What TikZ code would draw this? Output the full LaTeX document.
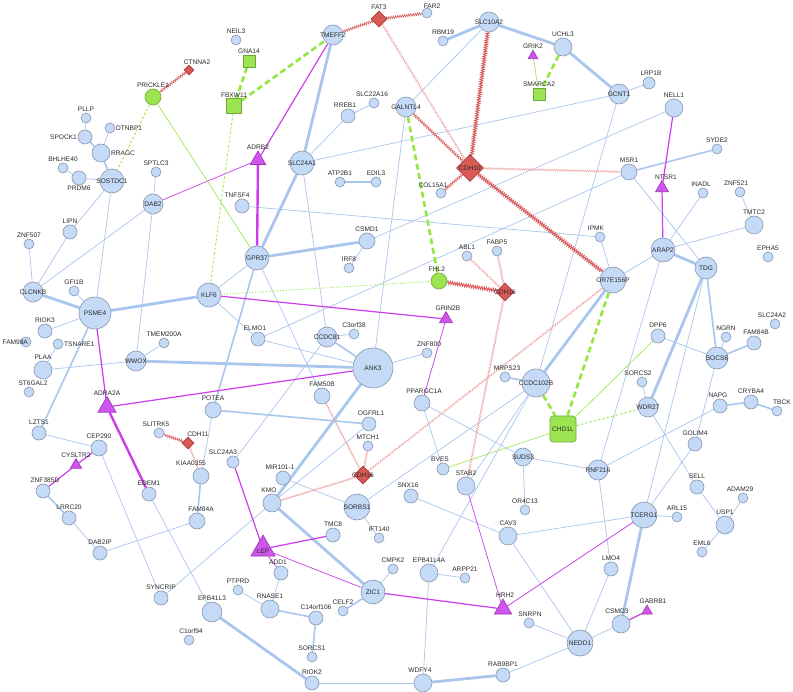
\documentclass[tikz,border=0pt]{standalone}
\usepackage{fontspec}
\setmainfont{Liberation Sans}
\usetikzlibrary{shapes.geometric,decorations.pathmorphing}
\pgfdeclarelayer{back}
\pgfdeclarelayer{bg}
\pgfsetlayers{back,bg,main}
\definecolor{nfill}{HTML}{C4DAF6}
\definecolor{nedge}{HTML}{8797AE}
\definecolor{eblue}{HTML}{A9C6EF}
\definecolor{mag}{HTML}{CC3DEB}
\definecolor{tfill}{HTML}{CF55EE}
\definecolor{tedge}{HTML}{9A35B0}
\definecolor{gfill}{HTML}{9BE650}
\definecolor{gedge}{HTML}{6EA83A}
\definecolor{gline}{HTML}{93E83F}
\definecolor{rfill}{HTML}{D95A55}
\definecolor{redge}{HTML}{A84040}
\definecolor{rline}{HTML}{D95A5A}
\definecolor{rlight}{HTML}{EFA2A2}
\definecolor{labc}{HTML}{2A2A2A}
\tikzset{
 gn/.style={circle,draw=nedge,fill=nfill,line width=0.6pt,inner sep=0pt},
 grn/.style={circle,draw=gedge,fill=gfill,line width=0.6pt,inner sep=0pt},
 gsq/.style={rectangle,draw=gedge,fill=gfill,line width=0.6pt,inner sep=0pt},
 rdia/.style={diamond,draw=redge,fill=rfill,line width=0.6pt,inner sep=0pt,aspect=1},
 tri/.style={regular polygon,regular polygon sides=3,draw=tedge,fill=tfill,line width=0.6pt,inner sep=0pt},
 lab/.style={font=\fontsize{6.6}{7}\selectfont,text=labc,inner sep=0.6pt},
 eb1/.style={draw=eblue,line width=0.7pt},
 eb2/.style={draw=eblue,line width=1.6pt},
 eb3/.style={draw=eblue,line width=2.8pt},
 em1/.style={draw=mag,line width=0.7pt},
 em2/.style={draw=mag,line width=1.2pt},
 em3/.style={draw=mag,line width=2.4pt},
 eg1/.style={draw=gline,line width=0.6pt},
 egd1/.style={draw=gline,line width=0.8pt,dash pattern=on 2.5pt off 2pt},
 egd3/.style={draw=gline,line width=2.6pt,dash pattern=on 6pt off 3.5pt},
 egdot/.style={draw=gline,line width=0.9pt,dash pattern=on 1pt off 1.8pt},
 er1/.style={draw=rlight,line width=0.45pt,decorate,decoration={zigzag,segment length=2.2pt,amplitude=0.9pt}},
 er2/.style={draw=rline,line width=0.6pt,decorate,decoration={zigzag,segment length=2.2pt,amplitude=1.2pt}},
 er3/.style={draw=rline,line width=0.9pt,decorate,decoration={zigzag,segment length=2.3pt,amplitude=1.5pt}},
}
\begin{document}
\begin{tikzpicture}[x=1pt,y=-1pt]
\useasboundingbox (0,0) rectangle (793,692);
\begin{pgfonlayer}{back}
\fill[white] (0,0) rectangle (793,692);
\end{pgfonlayer}
% ---- blue gene nodes
\node[gn,minimum size=10,label={[lab]above:PLLP}] (PLLP) at (86,118) {};
\node[gn,minimum size=10,label={[lab]right:DTNBP1}] (DTNBP1) at (110,128) {};
\node[gn,minimum size=14,label={[lab]left:SPOCK1}] (SPOCK1) at (85,137) {};
\node[gn,minimum size=18,label={[lab]right:RRAGC}] (RRAGC) at (101,153) {};
\node[gn,minimum size=10,label={[lab]above:BHLHE40}] (BHLHE40) at (63,168) {};
\node[gn,minimum size=14,label={[lab]below:PRDM6}] (PRDM6) at (79,178) {};
\node[gn,minimum size=24,label={[lab]center:SOSTDC1}] (SOSTDC1) at (112,181) {};
\node[gn,minimum size=10,label={[lab]above:SPTLC3}] (SPTLC3) at (156,172) {};
\node[gn,minimum size=20,label={[lab]center:DAB2}] (DAB2) at (153,204) {};
\node[gn,minimum size=14,label={[lab]above:LIPN}] (LIPN) at (70,232) {};
\node[gn,minimum size=10,label={[lab]above:ZNF507}] (ZNF507) at (29,244) {};
\node[gn,minimum size=20,label={[lab]center:CLCNKB}] (CLCNKB) at (33,292) {};
\node[gn,minimum size=10,label={[lab]above:GFI1B}] (GFI1B) at (74,291) {};
\node[gn,minimum size=32,label={[lab]center:PSME4}] (PSME4) at (95,313) {};
\node[gn,minimum size=14,label={[lab]above:RIOK3}] (RIOK3) at (45,331) {};
\node[gn,minimum size=10,label={[lab,xshift=8]left:FAM98A}] (FAM98A) at (26,342) {};
\node[gn,minimum size=10,label={[lab]right:TSNARE1}] (TSNARE1) at (58,344) {};
\node[gn,minimum size=10,label={[lab]above:TMEM200A}] (TMEM200A) at (164,343) {};
\node[gn,minimum size=18,label={[lab]above:PLAA}] (PLAA) at (43,370) {};
\node[gn,minimum size=20,label={[lab]center:WWOX}] (WWOX) at (136,361) {};
\node[gn,minimum size=10,label={[lab,xshift=4]above:ST6GAL2}] (ST6GAL2) at (29,392) {};
\node[gn,minimum size=14,label={[lab]above:LZTS1}] (LZTS1) at (39,433) {};
\node[gn,minimum size=10,label={[lab,xshift=-3]above:SLITRK5}] (SLITRK5) at (159,433) {};
\node[gn,minimum size=16,label={[lab]above:CEP290}] (CEP290) at (99,448) {};
\node[gn,minimum size=14,label={[lab,xshift=2]above:ZNF385D}] (ZNF385D) at (43,491) {};
\node[gn,minimum size=14,label={[lab]above:LRRC20}] (LRRC20) at (69,518) {};
\node[gn,minimum size=14,label={[lab]above:DAB2IP}] (DAB2IP) at (100,553) {};
\node[gn,minimum size=14,label={[lab]above:EDEM1}] (EDEM1) at (149,494) {};
\node[gn,minimum size=14,label={[lab]above:SYNCRIP}] (SYNCRIP) at (161,598) {};
\node[gn,minimum size=10,label={[lab,xshift=2]above:C1orf94}] (C1orf94) at (189,640) {};
\node[gn,minimum size=16,label={[lab,xshift=4]above:FAM84A}] (FAM84A) at (197,521) {};
\node[gn,minimum size=16,label={[lab,xshift=-10,yshift=1]above:KIAA0355}] (KIAA0355) at (201,476) {};
\node[gn,minimum size=12,label={[lab,xshift=-10]above:SLC24A3}] (SLC24A3) at (233,462) {};
\node[gn,minimum size=14,label={[lab,xshift=-3]above:MIR101-1}] (MIR) at (283,478) {};
\node[gn,minimum size=18,label={[lab,xshift=-3]above:KMO}] (KMO) at (272,503) {};
\node[gn,minimum size=26,label={[lab]center:SORBS1}] (SORBS1) at (357,507) {};
\node[gn,minimum size=14,label={[lab]above:TMC8}] (TMC8) at (333,535) {};
\node[gn,minimum size=10,label={[lab]above:IFT140}] (IFT140) at (379,538) {};
\node[gn,minimum size=14,label={[lab,xshift=-3]above:ADD1}] (ADD1) at (281,573) {};
\node[gn,minimum size=10,label={[lab]above:CMPK2}] (CMPK2) at (393,569) {};
\node[gn,minimum size=24,label={[lab]center:ZIC1}] (ZIC1) at (373,592) {};
\node[gn,minimum size=10,label={[lab]above:PTPRD}] (PTPRD) at (238,590) {};
\node[gn,minimum size=20,label={[lab]above:EPB41L3}] (EPB41L3) at (212,612) {};
\node[gn,minimum size=18,label={[lab]above:RNASE1}] (RNASE1) at (270,609) {};
\node[gn,minimum size=10,label={[lab]above:CELF2}] (CELF2) at (343,611) {};
\node[gn,minimum size=14,label={[lab]above:C14orf106}] (C14orf106) at (316,618) {};
\node[gn,minimum size=10,label={[lab]above:SORCS1}] (SORCS1) at (312,657) {};
\node[gn,minimum size=14,label={[lab]above:RIOK2}] (RIOK2) at (312,683) {};
\node[gn,minimum size=12,label={[lab,xshift=-3]above:BVES}] (BVES) at (443,469) {};
\node[gn,minimum size=18,label={[lab]above:STAB2}] (STAB2) at (466,486) {};
\node[gn,minimum size=14,label={[lab,xshift=-3]above:SNX16}] (SNX16) at (411,496) {};
\node[gn,minimum size=10,label={[lab]above:OR4C13}] (OR4C13) at (525,510) {};
\node[gn,minimum size=18,label={[lab]above:CAV3}] (CAV3) at (508,536) {};
\node[gn,minimum size=18,label={[lab]above:EPB41L4A}] (EPB41L4A) at (429,573) {};
\node[gn,minimum size=10,label={[lab]above:ARPP21}] (ARPP21) at (465,578) {};
\node[gn,minimum size=10,label={[lab,xshift=1]above:SNRPN}] (SNRPN) at (529,623) {};
\node[gn,minimum size=26,label={[lab]center:NEDD1}] (NEDD1) at (580,643) {};
\node[gn,minimum size=14,label={[lab]above:RAB9BP1}] (RAB9BP1) at (503,675) {};
\node[gn,minimum size=18,label={[lab,xshift=-3]above:WDFY4}] (WDFY4) at (423,683) {};
\node[gn,minimum size=20,label={[lab]center:RNF216}] (RNF216) at (598,470) {};
\node[gn,minimum size=14,label={[lab]above:SELL}] (SELL) at (697,487) {};
\node[gn,minimum size=10,label={[lab,xshift=-3]above:ADAM29}] (ADAM29) at (743,498) {};
\node[gn,minimum size=26,label={[lab]center:TCERG1}] (TCERG1) at (644,515) {};
\node[gn,minimum size=10,label={[lab]above:ARL15}] (ARL15) at (677,517) {};
\node[gn,minimum size=18,label={[lab]above:USP1}] (USP1) at (725,525) {};
\node[gn,minimum size=10,label={[lab]above:EML6}] (EML6) at (702,552) {};
\node[gn,minimum size=14,label={[lab]above:LMO4}] (LMO4) at (611,569) {};
\node[gn,minimum size=18,label={[lab,xshift=-4]above:CSMD3}] (CSMD3) at (621,624) {};
\node[gn,minimum size=24,label={[lab]center:GPR37}] (GPR37) at (257,258) {};
\node[gn,minimum size=16,label={[lab]above:CSMD1}] (CSMD1) at (367,241) {};
\node[gn,minimum size=10,label={[lab]above:IRF8}] (IRF8) at (349,268) {};
\node[gn,minimum size=24,label={[lab]center:KLF6}] (KLF6) at (209,295) {};
\node[gn,minimum size=14,label={[lab,xshift=-3]above:ELMO1}] (ELMO1) at (258,339) {};
\node[gn,minimum size=20,label={[lab]center:CCDC81}] (CCDC81) at (327,337) {};
\node[gn,minimum size=10,label={[lab]above:C3orf38}] (C3orf38) at (354,334) {};
\node[gn,minimum size=40,label={[lab]center:ANK3}] (ANK3) at (373,368) {};
\node[gn,minimum size=16,label={[lab]above:FAM50B}] (FAM50B) at (322,396) {};
\node[gn,minimum size=16,label={[lab]above:POTEA}] (POTEA) at (213,410) {};
\node[gn,minimum size=14,label={[lab,xshift=2]above:OGFRL1}] (OGFRL1) at (369,424) {};
\node[gn,minimum size=10,label={[lab]above:MTCH1}] (MTCH1) at (368,446) {};
\node[gn,minimum size=10,label={[lab]above:ABL1}] (ABL1) at (467,256) {};
\node[gn,minimum size=10,label={[lab]above:FABP5}] (FABP5) at (497,251) {};
\node[gn,minimum size=10,label={[lab,xshift=2]above:ZNF800}] (ZNF800) at (427,353) {};
\node[gn,minimum size=10,label={[lab,xshift=2]above:MRPS23}] (MRPS23) at (505,377) {};
\node[gn,minimum size=28,label={[lab]center:CCDC102B}] (CCDC102B) at (536,383) {};
\node[gn,minimum size=16,label={[lab,xshift=2]above:PPARGC1A}] (PPARGC1A) at (422,403) {};
\node[gn,minimum size=18,label={[lab]center:SUDS3}] (SUDS3) at (523,457) {};
\node[gn,minimum size=10,label={[lab]above:EPHA5}] (EPHA5) at (768,257) {};
\node[gn,minimum size=24,label={[lab]center:ARAP2}] (ARAP2) at (663,250) {};
\node[gn,minimum size=22,label={[lab]center:TDG}] (TDG) at (706,268) {};
\node[gn,minimum size=26,label={[lab]center:OR7E156P}] (OR7E156P) at (613,280) {};
\node[gn,minimum size=14,label={[lab]above:DPP6}] (DPP6) at (658,336) {};
\node[gn,minimum size=10,label={[lab]above:NGRN}] (NGRN) at (726,337) {};
\node[gn,minimum size=14,label={[lab,xshift=2]above:FAM84B}] (FAM84B) at (754,343) {};
\node[gn,minimum size=10,label={[lab,xshift=-3]above:SLC24A2}] (SLC24A2) at (775,324) {};
\node[gn,minimum size=22,label={[lab]center:SOCS6}] (SOCS6) at (717,358) {};
\node[gn,minimum size=10,label={[lab,xshift=-4]above:SORCS2}] (SORCS2) at (642,382) {};
\node[gn,minimum size=20,label={[lab]center:WDR27}] (WDR27) at (648,407) {};
\node[gn,minimum size=14,label={[lab,xshift=-2]above:NAPG}] (NAPG) at (720,406) {};
\node[gn,minimum size=14,label={[lab]above:CRYBA4}] (CRYBA4) at (751,402) {};
\node[gn,minimum size=10,label={[lab,xshift=5]above:TBCK}] (TBCK) at (777,411) {};
\node[gn,minimum size=14,label={[lab]above:GOLIM4}] (GOLIM4) at (695,444) {};
\node[gn,minimum size=10,label={[lab,xshift=-4]above:IPMK}] (IPMK) at (600,237) {};
\node[gn,minimum size=20,label={[lab]center:GCNT1}] (GCNT1) at (619,94) {};
\node[gn,minimum size=12,label={[lab,xshift=2]above:LRP1B}] (LRP1B) at (649,83) {};
\node[gn,minimum size=18,label={[lab]above:NELL1}] (NELL1) at (674,108) {};
\node[gn,minimum size=10,label={[lab]above:SYDE2}] (SYDE2) at (717,149) {};
\node[gn,minimum size=16,label={[lab]above:MSR1}] (MSR1) at (629,172) {};
\node[gn,minimum size=10,label={[lab,xshift=-2]above:INADL}] (INADL) at (703,193) {};
\node[gn,minimum size=10,label={[lab,xshift=-4]above:ZNF521}] (ZNF521) at (740,192) {};
\node[gn,minimum size=18,label={[lab]above:TMTC2}] (TMTC2) at (754,225) {};
\node[gn,minimum size=10,label={[lab,xshift=5,yshift=-2]above:FAR2}] (FAR2) at (427,13) {};
\node[gn,minimum size=20,label={[lab]center:SLC10A2}] (SLC10A2) at (489,22) {};
\node[gn,minimum size=10,label={[lab]above:RBM19}] (RBM19) at (443,41) {};
\node[gn,minimum size=18,label={[lab]above:UCHL3}] (UCHL3) at (563,47) {};
\node[gn,minimum size=20,label={[lab]center:GALNTL4}] (GALNTL4) at (406,107) {};
\node[gn,minimum size=10,label={[lab,xshift=-8,yshift=-1]above:COL15A1}] (COL15A1) at (441,193) {};
\node[gn,minimum size=10,label={[lab]above:NEIL3}] (NEIL3) at (236,40) {};
\node[gn,minimum size=20,label={[lab]center:TMEFF2}] (TMEFF2) at (333,35) {};
\node[gn,minimum size=10,label={[lab,xshift=-2]above:SLC22A16}] (SLC22A16) at (374,103) {};
\node[gn,minimum size=14,label={[lab,xshift=-3]above:RREB1}] (RREB1) at (348,116) {};
\node[gn,minimum size=24,label={[lab]center:SLC24A1}] (SLC24A1) at (302,163) {};
\node[gn,minimum size=10,label={[lab]above:ATP2B1}] (ATP2B1) at (340,182) {};
\node[gn,minimum size=10,label={[lab]above:EDIL3}] (EDIL3) at (376,182) {};
\node[gn,minimum size=14,label={[lab,xshift=-5]above:TNFSF4}] (TNFSF4) at (242,206) {};
% ---- green nodes
\node[grn,minimum size=16,label={[lab]above:PRICKLE1}] (PRICKLE1) at (153,97) {};
\node[grn,minimum size=16,label={[lab,xshift=-2]above:FHL2}] (FHL2) at (439,281) {};
\node[gsq,minimum size=12,label={[lab]above:GNA14}] (GNA14) at (249,61) {};
\node[gsq,minimum size=15,label={[lab]above:FBXW11}] (FBXW11) at (234,106) {};
\node[gsq,minimum size=12,label={[lab]above:SMARCA2}] (SMARCA2) at (539,94) {};
\node[gsq,minimum size=26,rounded corners=3pt,label={[lab]center:CHD1L}] (CHD1L) at (563,429) {};
% ---- red nodes
\node[rdia,minimum size=10,label={[lab,xshift=8,yshift=-1]above:CTNNA2}] (CTNNA2) at (189,70) {};
\node[rdia,minimum size=16,label={[lab]above:FAT3}] (FAT3) at (379,19) {};
\node[rdia,minimum size=27,label={[lab]center:CDH10}] (CDH10) at (470,168) {};
\node[rdia,minimum size=18,label={[lab]center:CDH16}] (CDH16a) at (505,292) {};
\node[rdia,minimum size=18,label={[lab]center:CDH16}] (CDH16b) at (363,475) {};
\node[rdia,minimum size=12,label={[lab,xshift=10,yshift=-1]above:CDH11}] (CDH11) at (188,443) {};
% ---- magenta nodes
\node[tri,minimum size=11.5,label={[lab]above:GRIK2}] (GRIK2) at (533,56) {};
\node[tri,minimum size=18,label={[lab]above:ADRB2}] (ADRB2) at (258,160) {};
\node[tri,minimum size=21,label={[lab]above:ADRA2A}] (ADRA2A) at (107,407) {};
\node[tri,minimum size=15,label={[lab,xshift=4]above:NTSR1}] (NTSR1) at (662,188) {};
\node[tri,minimum size=15,label={[lab,xshift=2]above:GRIN2B}] (GRIN2B) at (446,319) {};
\node[tri,minimum size=13,label={[lab]above:CYSLTR2}] (CYSLTR2) at (76,465) {};
\node[tri,minimum size=28,label={[lab,yshift=-2]center:LEP}] (LEP) at (263,549) {};
\node[tri,minimum size=20,label={[lab,xshift=2]above:HRH2}] (HRH2) at (503,609) {};
\node[tri,minimum size=12,label={[lab,xshift=6]above:GABRB1}] (GABRB1) at (647,611) {};
% ================= edges
\begin{pgfonlayer}{bg}
% blue
\draw[eb3] (TMEFF2) -- (SLC24A1);
\draw[eb3] (SLC24A1) -- (GPR37);
\draw[eb1] (SLC24A1) -- (RREB1);
\draw[eb1] (RREB1) -- (SLC22A16);
\draw[eb1] (SLC24A1) -- (GCNT1);
\draw[eb1] (SLC24A1) -- (CCDC81);
\draw[eb2] (ATP2B1) -- (EDIL3);
\draw[eb1] (TNFSF4) -- (IPMK);
\draw[eb3] (GPR37) -- (CSMD1);
\draw[eb1] (CSMD1) -- (IRF8);
\draw[eb1] (GPR37) -- (KLF6);
\draw[eb2] (GPR37) -- (POTEA);
\draw[eb1] (GPR37) -- (FAM50B);
\draw[eb3] (KLF6) -- (PSME4);
\draw[eb1] (KLF6) -- (ELMO1);
\draw[eb1] (ELMO1) -- (ANK3);
\draw[eb2] (CCDC81) -- (ANK3);
\draw[eb1] (CCDC81) -- (C3orf38);
\draw[eb1] (CCDC81) -- (SLC24A3);
\draw[eb3] (WWOX) -- (ANK3);
\draw[eb1] (WWOX) -- (TMEM200A);
\draw[eb1] (WWOX) -- (PLAA);
\draw[eb1] (WWOX) -- (DAB2);
\draw[eb3] (PSME4) -- (CLCNKB);
\draw[eb1] (PSME4) -- (GFI1B);
\draw[eb1] (PSME4) -- (RIOK3);
\draw[eb2] (PSME4) -- (LZTS1);
\draw[eb1] (PSME4) -- (SOSTDC1);
\draw[eb1] (CLCNKB) -- (ZNF507);
\draw[eb1] (CLCNKB) -- (LIPN);
\draw[eb1] (CLCNKB) -- (DAB2);
\draw[eb1] (SOSTDC1) -- (LIPN);
\draw[eb2] (SOSTDC1) -- (RRAGC);
\draw[eb1] (SOSTDC1) -- (PRDM6);
\draw[eb1] (PRDM6) -- (BHLHE40);
\draw[eb2] (RRAGC) -- (SPOCK1);
\draw[eb1] (SPOCK1) -- (PLLP);
\draw[eb1] (RRAGC) -- (DTNBP1);
\draw[eb1] (DAB2) -- (SPTLC3);
\draw[eb1] (PLAA) -- (TSNARE1);
\draw[eb1] (LZTS1) -- (CEP290);
\draw[eb1] (CEP290) -- (SYNCRIP);
\draw[eb2] (ZNF385D) -- (LRRC20);
\draw[eb1] (LRRC20) -- (DAB2IP);
\draw[eb1] (DAB2IP) -- (FAM84A);
\draw[eb1] (EDEM1) -- (EPB41L3);
\draw[eb1] (SYNCRIP) -- (KMO);
\draw[eb1] (KMO) -- (OGFRL1);
\draw[eb2] (KIAA0355) -- (FAM84A);
\draw[eb1] (POTEA) -- (KIAA0355);
\draw[eb2] (POTEA) -- (OGFRL1);
\draw[eb3] (ANK3) -- (KMO);
\draw[eb3] (KMO) -- (ZIC1);
\draw[eb1] (MIR) -- (SORBS1);
\draw[eb1] (SORBS1) -- (IFT140);
\draw[eb1] (SORBS1) -- (CCDC102B);
\draw[eb1] (ZIC1) -- (CMPK2);
\draw[eb2] (ZIC1) -- (CELF2);
\draw[eb1] (ADD1) -- (RNASE1);
\draw[eb1] (PTPRD) -- (RNASE1);
\draw[eb2] (RNASE1) -- (C14orf106);
\draw[eb2] (C14orf106) -- (SORCS1);
\draw[eb3] (EPB41L3) -- (RIOK2);
\draw[eb1] (RIOK2) -- (WDFY4);
\draw[eb3] (WDFY4) -- (RAB9BP1);
\draw[eb1] (WDFY4) -- (EPB41L4A);
\draw[eb1] (EPB41L4A) -- (ARPP21);
\draw[eb1] (EPB41L4A) -- (CCDC102B);
\draw[eb1] (RAB9BP1) -- (NEDD1);
\draw[eb1] (SNRPN) -- (NEDD1);
\draw[eb1] (CAV3) -- (NEDD1);
\draw[eb1] (CAV3) -- (SNX16);
\draw[eb1] (CAV3) -- (TCERG1);
\draw[eb1] (NEDD1) -- (CSMD3);
\draw[eb3] (CSMD3) -- (TCERG1);
\draw[eb1] (TCERG1) -- (ARL15);
\draw[eb1] (TCERG1) -- (TDG);
\draw[eb1] (TCERG1) -- (GOLIM4);
\draw[eb1] (SOCS6) -- (GOLIM4);
\draw[eb1] (SELL) -- (USP1);
\draw[eb1] (USP1) -- (ADAM29);
\draw[eb1] (USP1) -- (EML6);
\draw[eb1] (WDR27) -- (SELL);
\draw[eb1] (LMO4) -- (RNF216);
\draw[eb1] (LMO4) -- (NEDD1);
\draw[eb1] (ARAP2) -- (RNF216);
\draw[eb1] (SUDS3) -- (OR4C13);
\draw[eb1] (SUDS3) -- (RNF216);
\draw[eb1] (PPARGC1A) -- (SUDS3);
\draw[eb1] (PPARGC1A) -- (BVES);
\draw[eb1] (NAPG) -- (RNF216);
\draw[eb2] (NAPG) -- (CRYBA4);
\draw[eb2] (CRYBA4) -- (TBCK);
\draw[eb1] (SOCS6) -- (NGRN);
\draw[eb2] (SOCS6) -- (FAM84B);
\draw[eb1] (SOCS6) -- (DPP6);
\draw[eb2] (TDG) -- (SOCS6);
\draw[eb3] (TDG) -- (WDR27);
\draw[eb3] (TDG) -- (ARAP2);
\draw[eb1] (WDR27) -- (SORCS2);
\draw[eb1] (ARAP2) -- (OR7E156P);
\draw[eb1] (ARAP2) -- (TMTC2);
\draw[eb1] (ARAP2) -- (INADL);
\draw[eb1] (ZNF521) -- (TMTC2);
\draw[eb2] (MSR1) -- (SYDE2);
\draw[eb1] (MSR1) -- (TDG);
\draw[eb1] (IPMK) -- (OR7E156P);
\draw[eb1] (GCNT1) -- (LRP1B);
\draw[eb3] (UCHL3) -- (GCNT1);
\draw[eb3] (SLC10A2) -- (UCHL3);
\draw[eb3] (SLC10A2) -- (RBM19);
\draw[eb1] (SLC10A2) -- (GALNTL4);
\draw[eb1] (GCNT1) -- (CCDC102B);
\draw[eb1] (NELL1) -- (CSMD1);
\draw[eb1] (GALNTL4) -- (ANK3);
\draw[eb3] (CCDC102B) -- (OR7E156P);
\draw[eb2] (CCDC102B) -- (MRPS23);
\draw[eb1] (CCDC102B) -- (STAB2);
\draw[eb1] (ANK3) -- (ZNF800);
\draw[eb1] (MSR1) -- (ELMO1);
% magenta
\draw[em2] (TMEFF2) -- (ADRB2);
\draw[em1] (ADRB2) -- (DAB2);
\draw[em3] (ADRB2) -- (GPR37);
\draw[em2] (KLF6) -- (GRIN2B);
\draw[em1] (GRIN2B) -- (PPARGC1A);
\draw[em2] (ANK3) -- (ADRA2A);
\draw[em2] (PSME4) -- (ADRA2A);
\draw[em3] (ADRA2A) -- (EDEM1);
\draw[em2] (CYSLTR2) -- (CEP290);
\draw[em2] (CYSLTR2) -- (ZNF385D);
\draw[em2] (SLC24A3) -- (LEP);
\draw[em2] (LEP) -- (TMC8);
\draw[em1] (LEP) -- (ZIC1);
\draw[em1] (LEP) -- (ADD1);
\draw[em2] (ZIC1) -- (HRH2);
\draw[em1] (STAB2) -- (HRH2);
\draw[em1] (HRH2) -- (TCERG1);
\draw[em2] (CSMD3) -- (GABRB1);
\draw[em2] (NELL1) -- (NTSR1);
\draw[em2] (NTSR1) -- (ARAP2);
% green
\draw[egd1] (PRICKLE1) -- (SOSTDC1);
\draw[eg1] (PRICKLE1) -- (GPR37);
\draw[egd3] (GNA14) -- (FBXW11);
\draw[egd3] (FBXW11) -- (TMEFF2);
\draw[egd1] (FBXW11) -- (KLF6);
\draw[egdot] (KLF6) -- (FHL2);
\draw[egd3] (GALNTL4) -- (FHL2);
\draw[egd3] (UCHL3) -- (SMARCA2);
\draw[eg1] (GRIK2) -- (SMARCA2);
\draw[egd3] (OR7E156P) -- (CHD1L);
\draw[egd3] (CCDC102B) -- (CHD1L);
\draw[egd1] (CHD1L) -- (WDR27);
\draw[eg1] (CHD1L) -- (DPP6);
\draw[eg1] (CHD1L) -- (BVES);
% red zigzag
\draw[er2] (CTNNA2) -- (PRICKLE1);
\draw[er2] (FAT3) -- (TMEFF2);
\draw[er2] (FAT3) -- (FAR2);
\draw[er1] (FAT3) -- (CDH10);
\draw[er3] (SLC10A2) -- (CDH10);
\draw[er2] (GALNTL4) -- (CDH10);
\draw[er2] (CDH10) -- (COL15A1);
\draw[er1] (CDH10) -- (MSR1);
\draw[er3] (CDH10) -- (OR7E156P);
\draw[er3] (FHL2) -- (CDH16a);
\draw[er1] (ABL1) -- (CDH16a);
\draw[er1] (FABP5) -- (CDH16a);
\draw[er1] (CDH16a) -- (STAB2);
\draw[er1] (OR7E156P) -- (CDH16b);
\draw[er1] (FAM50B) -- (CDH16b);
\draw[er1] (MTCH1) -- (CDH16b);
\draw[er1] (KMO) -- (CDH16b);
\draw[er2] (SLITRK5) -- (CDH11);
\draw[er1] (CDH11) -- (KIAA0355);
\end{pgfonlayer}
\end{tikzpicture}
\end{document}
